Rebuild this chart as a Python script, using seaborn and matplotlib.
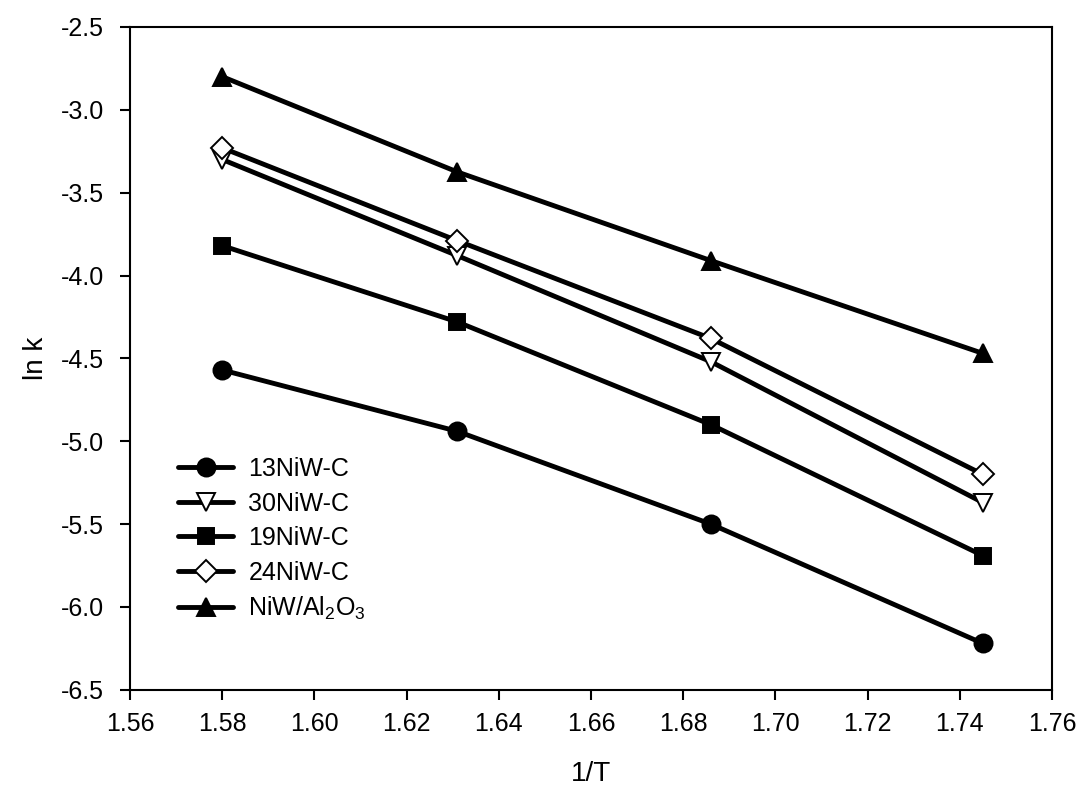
import numpy as np
import pandas as pd
import matplotlib
matplotlib.use("Agg")
import matplotlib.pyplot as plt
import seaborn as sns

# Data
inv_T = [1.580, 1.631, 1.686, 1.745]
series_names = ["13NiW-C", "30NiW-C", "19NiW-C", "24NiW-C", "NiW/Al$_2$O$_3$"]
lnk_13niw = [-4.57, -4.94, -5.50, -6.22]
lnk_30niw = [-3.30, -3.88, -4.52, -5.37]
lnk_19niw = [-3.82, -4.28, -4.90, -5.69]
lnk_24niw = [-3.23, -3.79, -4.38, -5.20]
lnk_niwal = [-2.80, -3.375, -3.91, -4.47]

sns.set_style("ticks", {"axes.edgecolor": "black", "text.color": "black",
                        "xtick.color": "black", "ytick.color": "black",
                        "axes.labelcolor": "black"})
plt.rcParams['font.family'] = ['Liberation Sans', 'DejaVu Sans']
plt.rcParams['mathtext.fontset'] = 'custom'
plt.rcParams['mathtext.rm'] = 'Liberation Sans'
plt.rcParams['mathtext.it'] = 'Liberation Sans'

all_values = [lnk_13niw, lnk_30niw, lnk_19niw, lnk_24niw, lnk_niwal]
rows = []
for name, vals in zip(series_names, all_values):
    for x, y in zip(inv_T, vals):
        rows.append({"1/T": x, "ln k": y, "series": name})
df = pd.DataFrame(rows)

markers = ["o", "v", "s", "D", "^"]
faces = ["black", "white", "black", "white", "black"]
sizes = [13, 13, 12, 11, 13]

fig = plt.figure(figsize=(10.79, 7.92), dpi=100)
ax = fig.add_axes([0.1205, 0.129, 0.8545, 0.837])

for name, mk, fc, ms in zip(series_names, markers, faces, sizes):
    sub = df[df["series"] == name]
    sns.lineplot(data=sub, x="1/T", y="ln k", ax=ax, color="black", linewidth=3.5,
                 marker=mk, markersize=ms, markerfacecolor=fc,
                 markeredgecolor="black", markeredgewidth=1.4, label=name)

ax.set_xlim(1.56, 1.76)
ax.set_ylim(-6.5, -2.5)
ax.set_xticks(np.arange(1.56, 1.7601, 0.02))
ax.set_yticks(np.arange(-6.5, -2.49, 0.5))
ax.xaxis.set_major_formatter(matplotlib.ticker.FormatStrFormatter('%.2f'))
ax.yaxis.set_major_formatter(matplotlib.ticker.FormatStrFormatter('%.1f'))
ax.tick_params(axis='both', direction='out', length=7, width=1.5, labelsize=18,
               colors="black")
ax.tick_params(axis='y', pad=12)
ax.tick_params(axis='x', pad=9)
for sp in ax.spines.values():
    sp.set_linewidth(1.5)
    sp.set_color("black")
    sp.set_visible(True)

ax.set_xlabel("1/T", fontsize=20, labelpad=18)
ax.set_ylabel("ln k", fontsize=20, labelpad=8)

ax.legend(loc='upper left', bbox_to_anchor=(0.028, 0.385), frameon=False,
          fontsize=18, handlelength=2.2, labelspacing=0.42, handletextpad=0.6,
          markerscale=1.0)

fig.savefig("out.png", dpi=100)
